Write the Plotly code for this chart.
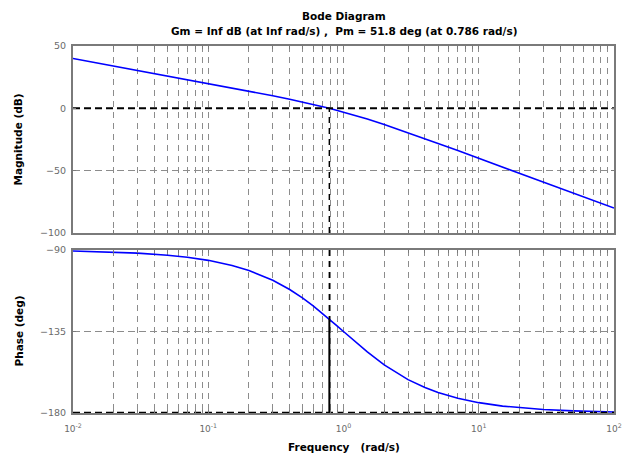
import plotly.graph_objects as go
from plotly.subplots import make_subplots

# ---- data ----
freq = [0.01, 0.02, 0.03, 0.05, 0.07, 0.1, 0.15, 0.2, 0.3, 0.4, 0.5, 0.6, 0.7,
        0.786, 0.9, 1.0, 1.2, 1.5, 2, 3, 4, 5, 7, 10, 15, 20, 30, 50, 70, 100]
mag_db = [40.0, 33.98, 30.45, 26.01, 23.08, 19.96, 16.38, 13.81, 10.08, 7.31,
          5.05, 3.10, 1.37, 0.0, -1.66, -3.01, -5.46, -8.64, -13.01, -19.54,
          -24.34, -28.13, -33.89, -40.04, -47.06, -52.05, -59.09, -67.96,
          -73.80, -80.0]
phase_deg = [-90.57, -91.15, -91.72, -92.86, -94.00, -95.71, -98.53, -101.31,
             -106.70, -111.80, -116.57, -120.96, -124.99, -128.17, -131.99,
             -135.0, -140.19, -146.31, -153.43, -161.57, -165.96, -168.69,
             -171.87, -174.29, -176.19, -177.14, -178.09, -178.85, -179.18,
             -179.43]

pm_freq = 0.786
pm_phase = -128.2

x_grid = [0.01, 0.02, 0.03, 0.04, 0.05, 0.06, 0.07, 0.08, 0.09,
          0.1, 0.2, 0.3, 0.4, 0.5, 0.6, 0.7, 0.8, 0.9,
          1, 2, 3, 4, 5, 6, 7, 8, 9,
          10, 20, 30, 40, 50, 60, 70, 80, 90, 100]
x_labels = {0.01: "10<sup>-2</sup>", 0.1: "10<sup>-1</sup>", 1: "10<sup>0</sup>",
            10: "10<sup>1</sup>", 100: "10<sup>2</sup>"}
mag_ticks = [-100, -50, 0, 50]
phase_ticks = [-180, -135, -90]

title_line1 = "Bode Diagram"
title_line2 = "Gm = Inf dB (at Inf rad/s) ,  Pm = 51.8 deg (at 0.786 rad/s)"

# ---- figure (page body has an 8px margin, so the figure starts at 8,8) ----
OFF = 8
W, H = 633 - 2 * OFF, 464 - 2 * OFF
plot_left, plot_right = 73 - OFF, 614 - OFF
plot_top, plot_bottom = 46 - OFF, 413 - OFF
ML, MR, MT, MB = plot_left, W - plot_right, plot_top, H - plot_bottom
ph = plot_bottom - plot_top
top_dom = [(413 - 233) / ph, 1.0]
bot_dom = [0.0, (413 - 250) / ph]

fig = make_subplots(rows=2, cols=1, shared_xaxes=False)

FONT = "DejaVu Sans"
GRID = "#8c8c8c"
FRAME = "#7a7a7a"
TICKC = "#6a6a6a"

fig.add_trace(go.Scatter(x=freq, y=mag_db, mode="lines",
                         line=dict(color="#0000ff", width=1.6),
                         showlegend=False, hoverinfo="skip"), row=1, col=1)
fig.add_trace(go.Scatter(x=freq, y=phase_deg, mode="lines",
                         line=dict(color="#0000ff", width=1.6),
                         showlegend=False, hoverinfo="skip"), row=2, col=1)

# margin marker lines
fig.add_trace(go.Scatter(x=[freq[0], freq[-1]], y=[0, 0], mode="lines",
                         line=dict(color="black", width=2, dash="7px,4px"),
                         showlegend=False, hoverinfo="skip"), row=1, col=1)
fig.add_trace(go.Scatter(x=[pm_freq, pm_freq], y=[mag_ticks[0], 0], mode="lines",
                         line=dict(color="black", width=1.5, dash="6px,5px"),
                         showlegend=False, hoverinfo="skip"), row=1, col=1)
fig.add_trace(go.Scatter(x=[freq[0], freq[-1]], y=[-180, -180], mode="lines",
                         line=dict(color="black", width=2.5, dash="7px,4px"),
                         showlegend=False, hoverinfo="skip", cliponaxis=False),
              row=2, col=1)
fig.add_trace(go.Scatter(x=[pm_freq, pm_freq], y=[-90, pm_phase], mode="lines",
                         line=dict(color="black", width=1.5, dash="6px,5px"),
                         showlegend=False, hoverinfo="skip"), row=2, col=1)
fig.add_trace(go.Scatter(x=[pm_freq, pm_freq], y=[-180, pm_phase], mode="lines",
                         line=dict(color="black", width=2),
                         showlegend=False, hoverinfo="skip", cliponaxis=False),
              row=2, col=1)

xcommon = dict(type="log", range=[-2, 2], tickmode="array", tickvals=x_grid,
               ticktext=[x_labels.get(v, "") for v in x_grid],
               showgrid=True, gridcolor=GRID, griddash="6px,5px", gridwidth=1.2,
               showline=True, linecolor=FRAME, linewidth=2, mirror="ticks",
               ticks="inside", ticklen=3, tickcolor=FRAME, tickwidth=1,
               zeroline=False, automargin=False, ticklabelstandoff=6,
               tickfont=dict(family=FONT, size=9, color=TICKC))
ycommon = dict(showgrid=True, gridcolor=GRID, griddash="7px,4px", gridwidth=1.2,
               showline=True, linecolor=FRAME, linewidth=2, mirror="ticks",
               ticks="inside", ticklen=3, tickcolor=FRAME, zeroline=False,
               automargin=False,
               tickfont=dict(family=FONT, size=9.5, color=TICKC),
               ticklabelstandoff=3)

fig.update_xaxes(**xcommon)
fig.update_xaxes(showticklabels=False, domain=[0, 1], row=1, col=1)
fig.update_xaxes(showticklabels=True, domain=[0, 1], row=2, col=1)
fig.update_yaxes(**ycommon)
fig.update_yaxes(range=[-100, 50], tickvals=mag_ticks, domain=top_dom, row=1, col=1)
fig.update_yaxes(range=[-180, -90], tickvals=phase_ticks, domain=bot_dom, row=2, col=1)

ann_font = dict(family=FONT, size=10.5, color="black")
annotations = [
    dict(text="<b>" + title_line1 + "</b>", x=0.5, y=1, xref="paper", yref="paper",
         xanchor="center", yanchor="middle", yshift=30, showarrow=False, font=ann_font),
    dict(text="<b>" + title_line2 + "</b>", x=0.5, y=1, xref="paper", yref="paper",
         xanchor="center", yanchor="middle", yshift=15, showarrow=False, font=ann_font),
    dict(text="<b>Magnitude (dB)</b>", x=0, y=(top_dom[0] + top_dom[1]) / 2,
         xref="paper", yref="paper", xanchor="center", yanchor="middle",
         xshift=-55, textangle=-90, showarrow=False, font=ann_font),
    dict(text="<b>Phase (deg)</b>", x=0, y=(bot_dom[0] + bot_dom[1]) / 2,
         xref="paper", yref="paper", xanchor="center", yanchor="middle",
         xshift=-55, textangle=-90, showarrow=False, font=ann_font),
    dict(text="<b>Frequency   (rad/s)</b>", x=0.5, y=0, xref="paper", yref="paper",
         xanchor="center", yanchor="middle", yshift=-34, showarrow=False, font=ann_font),
]

fig.update_layout(width=W, height=H, margin=dict(l=ML, r=MR, t=MT, b=MB),
                  paper_bgcolor="white", plot_bgcolor="white",
                  annotations=annotations, showlegend=False)

fig.write_html("out.html")
